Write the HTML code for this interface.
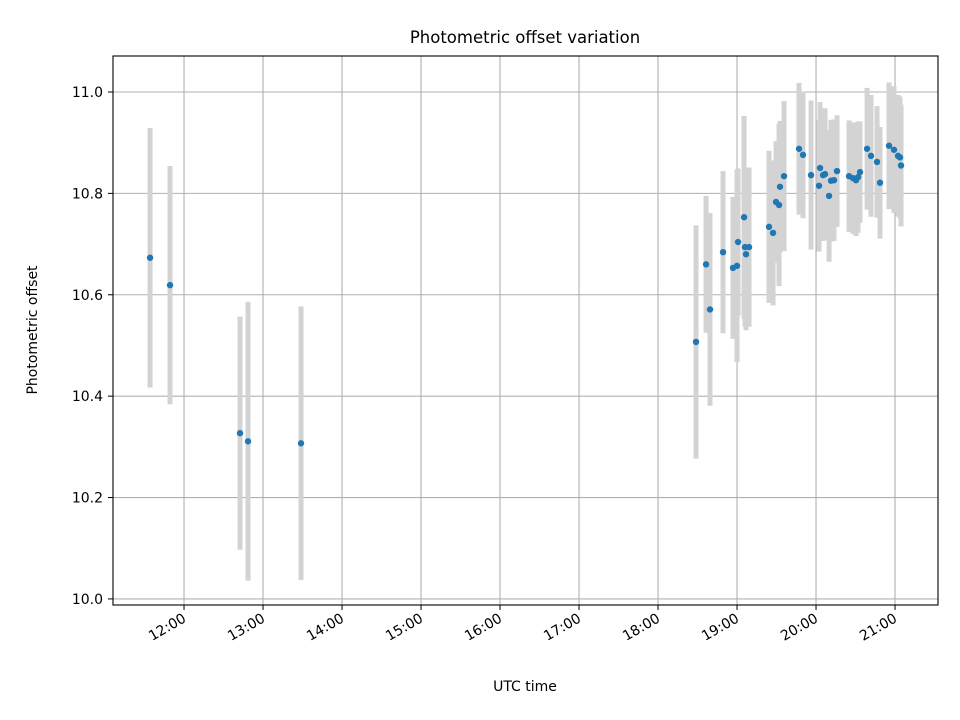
<!DOCTYPE html>
<html><head><meta charset="utf-8"><style>
body{margin:0;background:#fff;}
svg{display:block;font-family:"DejaVu Sans","Liberation Sans",sans-serif;}
</style></head><body>
<svg id="chart" width="960" height="720">
<rect width="960" height="720" fill="#fff"/>
<g id="grid"></g><g id="bars"></g><g id="pts"></g><g id="axes"></g>
<text x="525" y="43" text-anchor="middle" font-size="16.5">Photometric offset variation</text>
<text x="525" y="691" text-anchor="middle" font-size="14">UTC time</text>
<text transform="translate(37,330) rotate(-90)" text-anchor="middle" font-size="14">Photometric offset</text>
</svg>
<script>
const times=[11.570,11.823,12.709,12.810,13.481,18.481,18.608,18.658,18.823,18.949,19.0,19.013,19.089,19.101,19.114,19.152,19.405,19.456,19.494,19.532,19.544,19.595,19.785,19.835,19.937,20.051,20.038,20.089,20.114,20.165,20.19,20.228,20.266,20.418,20.468,20.506,20.532,20.557,20.646,20.696,20.772,20.81,20.924,20.987,21.038,21.063,21.076];
const offsets=[10.673,10.619,10.327,10.311,10.307,10.507,10.66,10.571,10.684,10.653,10.657,10.704,10.753,10.694,10.680,10.694,10.734,10.722,10.783,10.777,10.813,10.834,10.888,10.876,10.836,10.85,10.815,10.836,10.838,10.795,10.825,10.826,10.844,10.834,10.830,10.826,10.832,10.842,10.888,10.874,10.862,10.821,10.894,10.886,10.874,10.871,10.855];
const errors=[0.256,0.235,0.23,0.275,0.27,0.23,0.135,0.19,0.16,0.14,0.19,0.145,0.2,0.157,0.15,0.157,0.15,0.143,0.12,0.16,0.13,0.148,0.13,0.125,0.147,0.13,0.13,0.13,0.13,0.13,0.12,0.12,0.11,0.11,0.11,0.11,0.11,0.1,0.12,0.12,0.11,0.11,0.125,0.125,0.12,0.12,0.12];
const yTicks=[10.0,10.2,10.4,10.6,10.8,11.0];
const xTicks=[12,13,14,15,16,17,18,19,20,21];
const L=113,R=938,T=56,B=605;
const x0=11.101,x1=21.544,y0=9.988,y1=11.071;
const X=t=>L+(t-x0)/(x1-x0)*(R-L);
const Y=v=>B-(v-y0)/(y1-y0)*(B-T);
const NS="http://www.w3.org/2000/svg";
function mk(tag,attrs,parent){const e=document.createElementNS(NS,tag);for(const k in attrs)e.setAttribute(k,attrs[k]);document.getElementById(parent).appendChild(e);return e;}
const g='grid',a='axes';
yTicks.forEach(v=>{
 const y=Y(v);
 const l=mk('line',{x1:L,x2:R,y1:y,y2:y,stroke:'#b0b0b0','stroke-width':1.1},g);
 
 
 mk('line',{x1:L-5,x2:L,y1:y,y2:y,stroke:'#000'},a);
 const t=mk('text',{x:L-10,y:y+5,'text-anchor':'end','font-size':14},a);
 t.textContent=v.toFixed(1);
 
 
});
xTicks.forEach(h=>{
 const x=X(h);
 const l=mk('line',{x1:x,x2:x,y1:T,y2:B,stroke:'#b0b0b0','stroke-width':1.1},g);
 
 
 mk('line',{x1:x,x2:x,y1:B,y2:B+5,stroke:'#000'},a);
 const t=mk('text',{transform:`translate(${x+3},${B+16}) rotate(-30)`,'text-anchor':'end','font-size':14},a);
 t.textContent=h+':00';
 
 
});
const fr=mk('rect',{x:L,y:T,width:R-L,height:B-T,fill:'none',stroke:'#000','stroke-width':1.1},a);


times.forEach((t,i)=>{
 const x=X(t);
 const b=mk('line',{x1:x,x2:x,y1:Y(offsets[i]+errors[i]),y2:Y(offsets[i]-errors[i]),stroke:'#d3d3d3','stroke-width':5},'bars');
 
 
 const c=mk('circle',{cx:x,cy:Y(offsets[i]),r:3.2,fill:'#1f77b4'},'pts');
 
 
});
</script>
</body></html>
